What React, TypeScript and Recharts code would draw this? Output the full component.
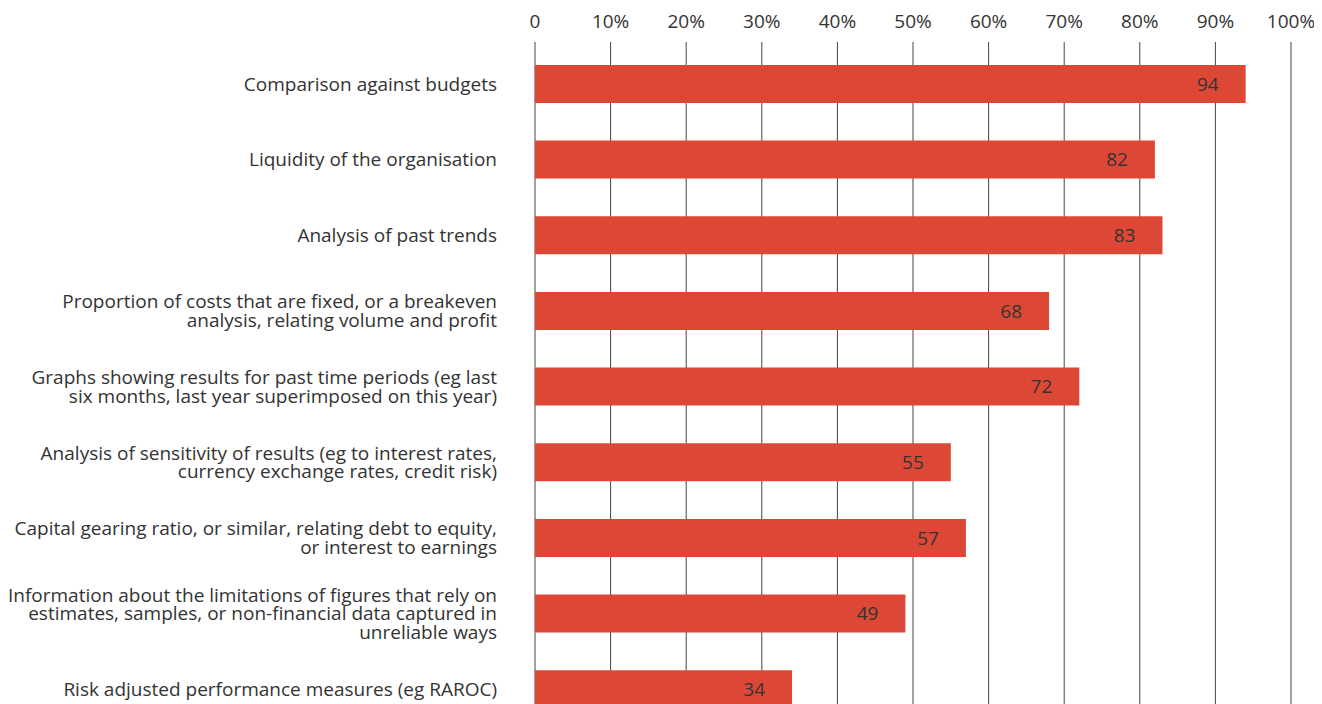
import React from 'react';
import { BarChart, Bar, XAxis, YAxis, CartesianGrid, LabelList } from 'recharts';

const categories: string[] = [
  'Comparison against budgets',
  'Liquidity of the organisation',
  'Analysis of past trends',
  'Proportion of costs that are fixed, or a breakeven\nanalysis, relating volume and profit',
  'Graphs showing results for past time periods (eg last\nsix months, last year superimposed on this year)',
  'Analysis of sensitivity of results (eg to interest rates,\ncurrency exchange rates, credit risk)',
  'Capital gearing ratio, or similar, relating debt to equity,\nor interest to earnings',
  'Information about the limitations of figures that rely on\nestimates, samples, or non-financial data captured in\nunreliable ways',
  'Risk adjusted performance measures (eg RAROC)',
];

const values: number[] = [94, 82, 83, 68, 72, 55, 57, 49, 34];

const xTicks: number[] = [0, 10, 20, 30, 40, 50, 60, 70, 80, 90, 100];

const data = categories.map((name, i) => ({ name, value: values[i] }));

const FONT = "'Open Sans', 'Liberation Sans', Arial, sans-serif";
const TEXT = '#333333';

const CategoryTick = (props: any) => {
  const { x, y, payload } = props;
  const lines: string[] = String(payload.value).split('\n');
  const lh = 18.5;
  const cap = 13.6;
  const first = y - ((lines.length - 1) * lh) / 2 + cap / 2;
  return (
    <text x={x} y={first} textAnchor="end" fill={TEXT} fontSize={19} fontFamily={FONT}>
      {lines.map((l, i) => (
        <tspan key={i} x={x} y={first + i * lh}>
          {l}
        </tspan>
      ))}
    </text>
  );
};

export default function App() {
  return (
    <div style={{ width: 1322, height: 696, overflow: 'hidden', marginLeft: -8 }}>
      <BarChart
        width={1322}
        height={719}
        data={data}
        layout="vertical"
        margin={{ top: 0, right: 31, bottom: 0, left: 0 }}
        barCategoryGap="25%"
        style={{ fontFamily: FONT }}
      >
        <CartesianGrid horizontal={false} vertical={true} stroke="#444444" strokeWidth={1} />
        <XAxis
          type="number"
          orientation="top"
          domain={[0, 100]}
          ticks={xTicks}
          height={34}
          axisLine={false}
          tickLine={false}
          tickSize={0}
          tickMargin={14}
          interval={0}
          tickFormatter={(v: number) => (v === 0 ? '0' : `${v}%`)}
          tick={{ fill: TEXT, fontSize: 19, fontFamily: FONT }}
        />
        <YAxis
          type="category"
          dataKey="name"
          width={535}
          axisLine={false}
          tickLine={false}
          tickSize={0}
          tickMargin={38}
          interval={0}
          padding={{ top: 4, bottom: 0 }}
          tick={<CategoryTick />}
        />
        <Bar dataKey="value" fill="#DD4836" isAnimationActive={false}>
          <LabelList
            dataKey="value"
            position="insideRight"
            offset={27}
            fill={TEXT}
            fontSize={19}
            fontFamily={FONT}
          />
        </Bar>
      </BarChart>
    </div>
  );
}
